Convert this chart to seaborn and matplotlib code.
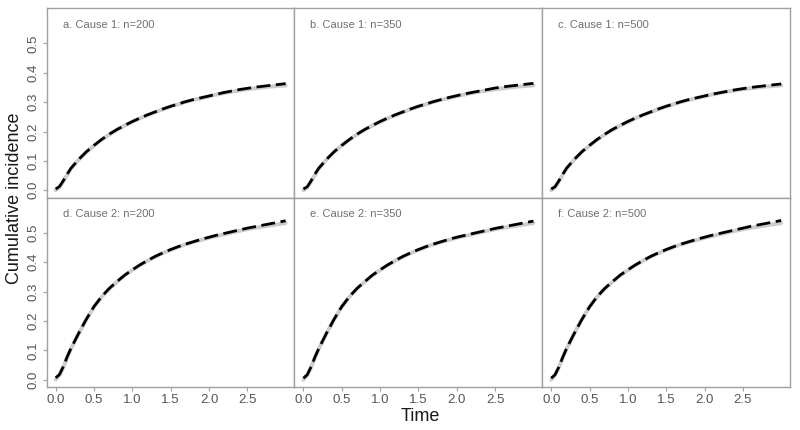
import numpy as np
import pandas as pd
import matplotlib
matplotlib.use("Agg")
import matplotlib.pyplot as plt
import seaborn as sns

time = [0.0, 0.05, 0.1, 0.15, 0.2, 0.3, 0.4, 0.5, 0.6, 0.7, 0.8, 0.9, 1.0, 1.1, 1.2, 1.3, 1.4, 1.5,
        1.6, 1.7, 1.8, 1.9, 2.0, 2.1, 2.2, 2.3, 2.4, 2.5, 2.6, 2.7, 2.8, 2.9, 3.0]

true_cause1 = [0.0, 0.01, 0.03, 0.053, 0.074, 0.104, 0.13, 0.152, 0.172, 0.19, 0.206, 0.22, 0.233,
               0.245, 0.256, 0.266, 0.276, 0.285, 0.293, 0.301, 0.308, 0.314, 0.32,
               0.326, 0.331, 0.336, 0.34, 0.344, 0.347, 0.35, 0.353, 0.355, 0.357]
true_cause2 = [0.0, 0.015, 0.042, 0.075, 0.105, 0.157, 0.205, 0.248, 0.282, 0.31, 0.333, 0.355, 0.373,
               0.39, 0.405, 0.419, 0.431, 0.442, 0.452, 0.461, 0.469, 0.476, 0.483,
               0.489, 0.495, 0.501, 0.507, 0.512, 0.517, 0.521, 0.525, 0.529, 0.533]

est_a = [0.004, 0.013, 0.033, 0.055, 0.075, 0.105, 0.131, 0.153, 0.173, 0.191, 0.207, 0.221, 0.234,
         0.246, 0.257, 0.267, 0.277, 0.286, 0.294, 0.302, 0.309, 0.315, 0.321,
         0.327, 0.333, 0.338, 0.343, 0.347, 0.351, 0.354, 0.357, 0.36, 0.363]
est_b = [0.004, 0.012, 0.032, 0.055, 0.075, 0.105, 0.131, 0.153, 0.173, 0.191, 0.207, 0.221, 0.234,
         0.246, 0.257, 0.267, 0.277, 0.286, 0.294, 0.302, 0.309, 0.316, 0.322,
         0.328, 0.333, 0.338, 0.343, 0.348, 0.352, 0.355, 0.358, 0.361, 0.364]
est_c = [0.004, 0.012, 0.032, 0.054, 0.075, 0.105, 0.131, 0.153, 0.173, 0.191, 0.207, 0.221, 0.234,
         0.246, 0.257, 0.267, 0.277, 0.286, 0.294, 0.302, 0.309, 0.315, 0.321,
         0.327, 0.332, 0.337, 0.342, 0.346, 0.35, 0.353, 0.356, 0.359, 0.362]
est_d = [0.006, 0.018, 0.045, 0.078, 0.107, 0.158, 0.206, 0.249, 0.283, 0.311, 0.334, 0.356, 0.374,
         0.391, 0.406, 0.42, 0.432, 0.443, 0.453, 0.462, 0.47, 0.478, 0.485,
         0.492, 0.498, 0.504, 0.51, 0.516, 0.521, 0.526, 0.531, 0.536, 0.541]
est_e = [0.005, 0.017, 0.044, 0.077, 0.106, 0.158, 0.206, 0.249, 0.283, 0.311, 0.334, 0.356, 0.374,
         0.391, 0.406, 0.42, 0.432, 0.443, 0.453, 0.462, 0.47, 0.478, 0.485,
         0.491, 0.497, 0.503, 0.509, 0.515, 0.52, 0.525, 0.53, 0.535, 0.54]
est_f = [0.005, 0.017, 0.043, 0.076, 0.106, 0.157, 0.205, 0.248, 0.283, 0.311, 0.334, 0.356, 0.374,
         0.391, 0.406, 0.42, 0.432, 0.443, 0.453, 0.462, 0.47, 0.478, 0.485,
         0.492, 0.498, 0.504, 0.51, 0.516, 0.522, 0.527, 0.532, 0.537, 0.542]

titles = ["a. Cause 1: n=200", "b. Cause 1: n=350", "c. Cause 1: n=500",
          "d. Cause 2: n=200", "e. Cause 2: n=350", "f. Cause 2: n=500"]
trues = [true_cause1] * 3 + [true_cause2] * 3
ests = [est_a, est_b, est_c, est_d, est_e, est_f]

xticks = [0.0, 0.5, 1.0, 1.5, 2.0, 2.5]
yticks = [0.0, 0.1, 0.2, 0.3, 0.4, 0.5]

sns.set_style("white")
plt.rcParams['font.family'] = ['Liberation Sans', 'DejaVu Sans']

fig, axes = plt.subplots(2, 3, figsize=(8, 4.3), dpi=100, sharex=True, sharey=True)
fig.subplots_adjust(left=0.0584, right=0.9875, top=0.981, bottom=0.1, wspace=0, hspace=0)

frame_col = "#a0a0a0"
tick_col = "#555555"

for i, ax in enumerate(axes.flat):
    r, c = divmod(i, 3)
    df = pd.DataFrame({"time": time, "true": trues[i], "est": ests[i]})
    sns.lineplot(data=df, x="time", y="true", ax=ax, color="#cccccc", linewidth=2.8)
    sns.lineplot(data=df, x="time", y="est", ax=ax, color="black", linewidth=2.0)
    ax.lines[-1].set_dashes((5, 2.0))
    ax.set_xlim(-0.117, 3.115)
    ax.set_ylim(-0.025, 0.62)
    ax.set_xticks(xticks)
    ax.set_yticks(yticks)
    ax.set_xlabel("")
    ax.set_ylabel("")
    for s in ax.spines.values():
        s.set_color(frame_col)
        s.set_linewidth(1.0)
    ax.tick_params(axis="both", which="both", direction="out", width=0.8,
                   color=frame_col, labelcolor=tick_col, labelsize=9.5, pad=2)
    ax.tick_params(axis="x", bottom=(r == 1), length=3 if r == 1 else 0)
    ax.tick_params(axis="y", left=(c == 0), length=3 if c == 0 else 0)
    ax.text(0.064, 0.94, titles[i], transform=ax.transAxes, ha="left", va="top",
            fontsize=8, color="#707070")

for ax in axes[:, 0]:
    ax.set_yticklabels([f"{v:.1f}" for v in yticks], rotation=90, va="center")
for ax in axes[1, :]:
    ax.set_xticklabels([f"{v:.1f}" for v in xticks])

fig.text(0.525, 0.012, "Time", ha="center", va="bottom", fontsize=13, color="#1a1a1a")
fig.text(0.008, 0.54, "Cumulative incidence", ha="left", va="center", rotation=90,
         fontsize=13, color="#1a1a1a")

fig.savefig("out.png", dpi=100)
